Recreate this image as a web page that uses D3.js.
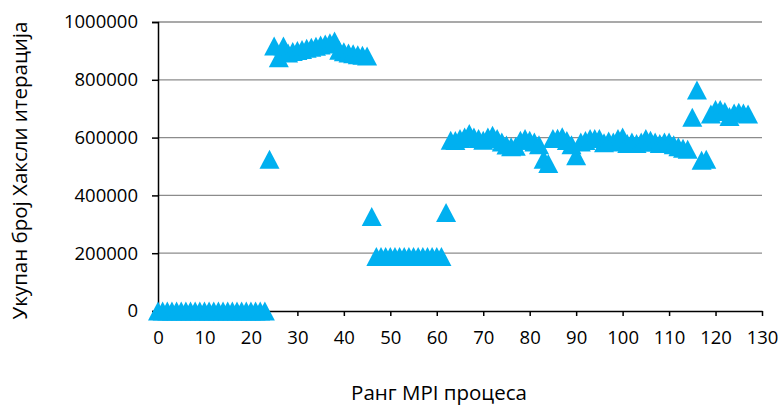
<!DOCTYPE html>
<html>
<head>
<meta charset="utf-8">
<script src="https://cdn.jsdelivr.net/npm/d3@7"></script>
<style>
  html, body { margin: 0; padding: 0; background: #fff; }
  svg text { font-family: "Open Sans", "DejaVu Sans", sans-serif; fill: #000; }
</style>
</head>
<body>
<svg id="chart" width="779" height="405"></svg>
<script>
// Total Huxley iterations per MPI rank (ranks 0..127)
const ranks = d3.range(0, 128);
const iterations = [
  // 0-23
  0, 0, 0, 0, 0, 0, 0, 0, 0, 0, 0, 0, 0, 0, 0, 0, 0, 0, 0, 0, 0, 0, 0, 0,
  // 24-46
  525000, 917000, 876000, 917000, 893000, 898000, 901000, 905000, 909000, 913000,
  916000, 920000, 924000, 928000, 934000, 902000, 897000, 893000, 890000, 887000,
  885000, 882000, 327000,
  // 47-61
  189000, 189000, 189000, 189000, 189000, 189000, 189000, 189000, 189000, 189000,
  189000, 189000, 189000, 189000, 189000,
  // 62-90
  341000, 591000, 590000, 597000, 602000, 614000, 602000, 597000, 591000, 602000,
  608000, 597000, 585000, 574000, 568000, 570000, 591000, 597000, 591000, 585000,
  575000, 525000, 510000, 597000, 598000, 603000, 590000, 575000, 537000,
  // 91-114
  585000, 590000, 597000, 597000, 597000, 582000, 588000, 585000, 597000, 602000,
  580000, 585000, 580000, 585000, 597000, 591000, 585000, 580000, 585000, 585000,
  575000, 568000, 563000, 560000,
  // 115-127
  670000, 765000, 522000, 525000, 682000, 697000, 697000, 690000, 673000, 685000,
  688000, 685000, 682000
];
const xTicks = d3.range(0, 131, 10);
const yTicks = [0, 200000, 400000, 600000, 800000, 1000000];

const xTitle = "Ранг MPI процеса";
const yTitle = "Укупан број Хаксли итерација";

const margin = { left: 158, right: 17, top: 22, bottom: 94 };
const width = 779, height = 405;

const svg = d3.select("#chart");

const x = d3.scaleLinear().domain([0, 130]).range([margin.left, width - margin.right]);
const y = d3.scaleLinear().domain([0, 1000000]).range([height - margin.bottom, margin.top]);

// horizontal gridlines
svg.append("g")
  .selectAll("line")
  .data(yTicks.filter(d => d > 0))
  .join("line")
  .attr("x1", x(0)).attr("x2", x(130))
  .attr("y1", d => y(d)).attr("y2", d => y(d))
  .attr("stroke", "#8c8c8c")
  .attr("stroke-width", 1.3);

// y axis
const yAxis = svg.append("g")
  .attr("transform", `translate(${x(0)},0)`)
  .call(d3.axisLeft(y).tickValues(yTicks).tickSize(6).tickPadding(14).tickFormat(d3.format("d")));
yAxis.select(".domain").attr("stroke", "#000").attr("stroke-width", 1.5);
yAxis.selectAll(".tick line").attr("stroke", "#000").attr("stroke-width", 1.5);
yAxis.selectAll(".tick text").attr("font-size", 18.5).attr("font-family", "Open Sans");

// x axis
const xAxis = svg.append("g")
  .attr("transform", `translate(0,${y(0)})`)
  .call(d3.axisBottom(x).tickValues(xTicks).tickSize(5).tickPadding(15).tickSizeOuter(0));
xAxis.select(".domain").attr("stroke", "#000").attr("stroke-width", 1.5);
xAxis.selectAll(".tick line").attr("stroke", "#000").attr("stroke-width", 1.5);
xAxis.selectAll(".tick text").attr("font-size", 18.5).attr("font-family", "Open Sans");

// triangle markers
const triW = 20, triH = 19;
const tri = `M0,${-triH / 2}L${triW / 2},${triH / 2}L${-triW / 2},${triH / 2}Z`;
svg.append("g")
  .selectAll("path")
  .data(ranks.map((r, i) => ({ r, v: iterations[i] })))
  .join("path")
  .attr("d", tri)
  .attr("transform", d => `translate(${x(d.r)},${y(d.v)})`)
  .attr("fill", "#00b0f0");

// axis titles
svg.append("text")
  .attr("x", 439)
  .attr("y", 400)
  .attr("text-anchor", "middle")
  .attr("font-size", 20.5)
  .text(xTitle);

svg.append("text")
  .attr("transform", `translate(27,${(y(0) + y(1000000)) / 2 + 4})rotate(-90)`)
  .attr("text-anchor", "middle")
  .attr("font-size", 20.5)
  .text(yTitle);
</script>
</body>
</html>
